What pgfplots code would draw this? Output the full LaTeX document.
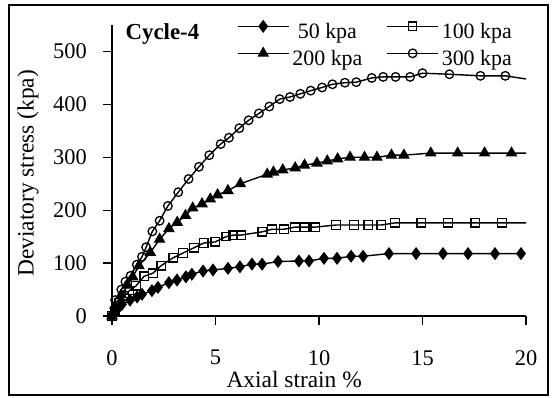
\documentclass[border=0pt]{standalone}
\usepackage{fontspec}
\setmainfont{Liberation Serif}
\usepackage{pgfplots}
\pgfplotsset{compat=1.18}
\begin{document}
\begin{tikzpicture}
\useasboundingbox (-112bp,-82bp) rectangle (442bp,316bp);
\begin{axis}[
  x=20.7bp, y=0.529bp,
  xmin=0, xmax=20, ymin=0, ymax=550,
  axis lines*=left,
  axis line style={line width=1.3bp},
  xtick={0,5,...,20}, ytick={0,100,...,500},
  tick align=outside, major tick length=9bp,
  tick style={line width=1.3bp, black},
  clip=false,
  /pgf/number format/assume math mode=true,
  ticklabel style={font=\fontsize{22.5}{26}\selectfont, inner sep=0pt},
  xticklabel style={yshift=-25bp},
  yticklabel style={xshift=-16bp},
  label style={font=\fontsize{23.5}{27}\selectfont, inner sep=0pt},
  xlabel={Axial strain \%},
  ylabel={Deviatory stress (kpa)},
  xlabel style={at={(axis description cs:0.44,0)}, anchor=base, yshift=-71bp},
  ylabel style={at={(axis description cs:-0.203,0.49)}, anchor=center},
  legend columns=2,
  legend style={draw=none, fill=none, inner sep=0pt, outer sep=0pt,
    at={(axis cs:6.04,558)}, anchor=north west,
    font=\fontsize{22}{26}\selectfont,
    column sep=3bp, row sep=4bp,
    nodes={inner sep=0pt, text height=16bp, text depth=5bp},
    /tikz/every even column/.append style={column sep=24bp}},
  legend image code/.code={\draw[#1, mark=none] (0bp,7bp) -- (51bp,7bp);
    \draw[#1, mark indices={1}] plot coordinates {(25.5bp,7bp)};},
  every axis plot/.append style={line width=1.4bp, black, mark options={solid, line width=1.3bp}},
]
\addplot[mark=diamond*, mark size=5.5bp] coordinates {
(0,0)(0.1,5)(0.25,12)(0.48,22)(0.87,30)(1.21,36)(1.45,41)(1.93,48)(2.22,54)(2.75,63)(3.14,68)(3.57,74)(3.86,79)(4.4,85)(4.88,87)(5.6,90)(6.18,93)(6.76,98)(7.25,98)(8.02,103)(9.03,104)(9.52,104)(10.24,109)(10.87,109)(11.55,113)(12.13,113)(13.38,118)(14.69,118)(15.99,118)(17.2,118)(18.5,118)(19.76,118)
};
\addlegendentry{50 kpa}
\addplot[mark=square, mark size=4.2bp, mark indices={1,...,32}] coordinates {
(0,0)(0.15,10)(0.35,25)(0.6,38)(0.85,48)(1.16,57)(1.55,75)(1.98,81)(2.37,95)(2.95,110)(3.43,119)(3.96,129)(4.44,138)(4.98,140)(5.51,150)(5.85,153)(6.23,153)(7.25,159)(7.73,164)(8.31,164)(8.84,168)(9.32,168)(9.81,168)(10.82,172)(11.69,172)(12.37,172)(13.0,172)(13.67,176)(14.93,176)(16.23,176)(17.54,176)(18.84,176)(20,176)
};
\addlegendentry{100 kpa}
\addplot[mark=triangle*, mark size=5.5bp, mark indices={1,...,34}] coordinates {
(0,0)(0.15,20)(0.45,40)(0.75,58)(1.0,74)(1.3,95)(1.85,120)(2.3,145)(2.75,165)(3.15,177)(3.55,190)(3.9,204)(4.35,212)(4.75,221)(5.1,229)(5.6,237)(6.2,250)(7.5,268)(7.8,272)(8.25,276)(8.85,280)(9.3,285)(9.9,289)(10.4,293)(10.9,297)(11.5,300)(12.2,300)(12.8,300)(13.5,304)(14.1,304)(15.4,308)(16.7,308)(18.0,308)(19.3,308)(20,308)
};
\addlegendentry{200 kpa}
\addplot[mark=o, mark size=4.3bp, mark indices={1,...,37}] coordinates {
(0,0)(0.15,30)(0.45,50)(0.65,65)(0.9,76)(1.2,97)(1.45,112)(1.65,130)(1.95,160)(2.3,180)(2.7,208)(3.2,234)(3.7,259)(4.2,282)(4.7,304)(5.25,325)(5.65,337)(6.15,355)(6.6,370)(7.1,383)(7.6,396)(8.1,410)(8.6,414)(9.1,420)(9.6,426)(10.15,432)(10.65,438)(11.25,441)(11.8,442)(12.55,450)(13.1,452)(13.7,452)(14.4,452)(15.0,459)(16.3,457)(17.8,454)(19.0,454)(20.0,448)
};
\addlegendentry{300 kpa}
\node[anchor=base west, font=\fontsize{23}{27}\selectfont\bfseries] at (axis cs:0.483,522.7) {Cycle-4};
\end{axis}
\draw[line width=1.4bp] (-103bp,-79bp) rectangle (436bp,311bp);
\end{tikzpicture}
\end{document}
